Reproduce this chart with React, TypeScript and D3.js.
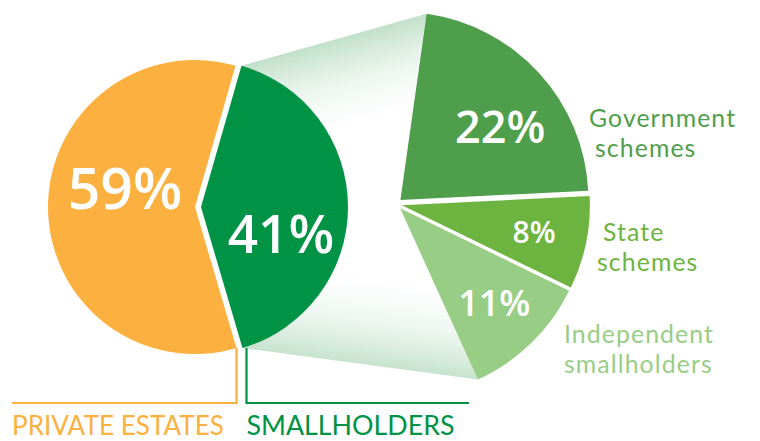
import React from 'react';
import * as d3 from 'd3';

// main split
const mainKeys = ['smallholders', 'private'];
const mainValues = [41, 59];
const mainColors = ['#009245', '#FBB040'];
const mainPctLabels = ['41%', '59%'];

// breakdown of smallholders
const subValues = [22, 8, 11];
const subPctLabels = ['22%', '8%', '11%'];
const subNames = [
  ['Government', 'schemes'],
  ['State', 'schemes'],
  ['Independent', 'smallholders'],
];
const subColors = ['#4F9E4B', '#6DB33F', '#98CD85'];
const subTextColors = ['#4F9E4B', '#6DB33F', '#98CD85'];

const legendLabels = ['PRIVATE ESTATES', 'SMALLHOLDERS'];

const deg = Math.PI / 180;
const pt = (cx: number, cy: number, r: number, a: number): [number, number] => [
  cx + r * Math.sin(a),
  cy - r * Math.cos(a),
];

export default function App() {
  const W = 760;
  const H = 441;

  // left pie
  const lc = { x: 201, y: 207 };
  const lr = 147;
  const lStart = 16 * deg;
  const mainPie = d3
    .pie<number>()
    .sort(null)
    .startAngle(lStart)
    .endAngle(lStart + 2 * Math.PI)(mainValues);
  const lArc = d3.arc<d3.PieArcDatum<number>>().innerRadius(0).outerRadius(lr);
  const lExplode = [0, 6];
  const lOff = mainPie.map((d, i) => {
    const a = (d.startAngle + d.endAngle) / 2;
    return [lExplode[i] * Math.sin(a), -lExplode[i] * Math.cos(a)];
  });
  const mainLabelR = [80, 70];
  const mainLabelNudge = [46, 2];
  const mainLabelSize = [53, 57];

  // right pie (same scale: share of total)
  const rc = { x: 396, y: 204 };
  const rr = 188;
  const rStart = 8 * deg;
  const subTotal = d3.sum(subValues);
  const subPie = d3
    .pie<number>()
    .sort(null)
    .startAngle(rStart)
    .endAngle(rStart + (2 * Math.PI * subTotal) / 100)(subValues);
  const rArc = d3.arc<d3.PieArcDatum<number>>().innerRadius(0).outerRadius(rr);
  const rExplode = 6;
  const rOff = subPie.map((d) => {
    const a = (d.startAngle + d.endAngle) / 2;
    return [rExplode * Math.sin(a), -rExplode * Math.cos(a)];
  });
  const subLabelR = 135;
  const subLabelNudge = [18, 0, -2];
  const subLabelSize = [45, 30, 36];

  // connector (zoom wedge) between the pies
  const g = mainPie[0];
  const p1 = pt(lc.x + lOff[0][0], lc.y + lOff[0][1], lr, g.startAngle);
  const p5 = pt(lc.x + lOff[0][0], lc.y + lOff[0][1], lr, g.endAngle);
  const first = subPie[0];
  const last = subPie[subPie.length - 1];
  const p2 = pt(rc.x + rOff[0][0], rc.y + rOff[0][1], rr, first.startAngle);
  const p3: [number, number] = [rc.x, rc.y];
  const p4 = pt(rc.x + rOff[2][0], rc.y + rOff[2][1], rr, last.endAngle);
  const poly = [p1, p2, p3, p4, p5, [lc.x, lc.y]];
  const polyPath = d3.line()(poly as [number, number][]) + 'Z';

  const fade = 100;
  const inward = (a: [number, number], b: [number, number], sign: number) => {
    const dx = b[0] - a[0];
    const dy = b[1] - a[1];
    const len = Math.hypot(dx, dy);
    const nx = (-dy / len) * sign;
    const ny = (dx / len) * sign;
    const m = [(a[0] + b[0]) / 2, (a[1] + b[1]) / 2];
    return { x1: m[0], y1: m[1], x2: m[0] + nx * fade, y2: m[1] + ny * fade };
  };
  const gTop = inward(p1, p2, 1);
  const gBot = inward(p5, p4, -1);

  // legend brackets
  const legendY = 403;
  const oCorner = pt(lc.x + lOff[1][0], lc.y + lOff[1][1], lr, mainPie[1].startAngle);
  const gCorner = pt(lc.x, lc.y, lr, mainPie[0].endAngle);
  const oX = oCorner[0];
  const gX = gCorner[0] + 4;

  const font = "'Open Sans', 'Noto Sans', sans-serif";
  const labelFont = "Lato, 'Open Sans', sans-serif";

  const sideLabelPos = [
    { x: 589, y: 127, dx: [0, 6] },
    { x: 597, y: 241, dx: [6, 0] },
    { x: 564, y: 343, dx: [0, 0] },
  ];
  const sideLabelSize = 24.8;

  return (
    <svg
      width={W}
      height={H}
      style={{ position: 'absolute', left: 0, top: 0, background: '#fff' }}
      fontFamily={font}
    >
      <defs>
        <linearGradient id="gTop" gradientUnits="userSpaceOnUse" {...gTop}>
          <stop offset="0" stopColor="#c1e0c9" />
          <stop offset="1" stopColor="#ffffff" stopOpacity={0} />
        </linearGradient>
        <linearGradient id="gBot" gradientUnits="userSpaceOnUse" {...gBot}>
          <stop offset="0" stopColor="#c6e3ce" />
          <stop offset="1" stopColor="#ffffff" stopOpacity={0} />
        </linearGradient>
      </defs>

      <path d={polyPath} fill="url(#gTop)" />
      <path d={polyPath} fill="url(#gBot)" />

      {/* left pie */}
      {mainPie.map((d, i) => (
        <g key={mainKeys[i]} transform={`translate(${lc.x + lOff[i][0]},${lc.y + lOff[i][1]})`}>
          <path d={lArc(d) || ''} fill={mainColors[i]} />
        </g>
      ))}
      {mainPie.map((d, i) => {
        const a = (d.startAngle + d.endAngle) / 2;
        const [x, y] = pt(lc.x + lOff[i][0], lc.y + lOff[i][1], mainLabelR[i], a);
        return (
          <text
            key={'ml' + i}
            x={x}
            y={y + mainLabelNudge[i]}
            textAnchor="middle"
            fill="#fff"
            fontSize={mainLabelSize[i]}
            fontWeight={600}
          >
            {mainPctLabels[i]}
          </text>
        );
      })}

      {/* right pie */}
      {subPie.map((d, i) => (
        <g key={'s' + i} transform={`translate(${rc.x + rOff[i][0]},${rc.y + rOff[i][1]})`}>
          <path d={rArc(d) || ''} fill={subColors[i]} />
        </g>
      ))}
      {subPie.map((d, i) => {
        const a = (d.startAngle + d.endAngle) / 2;
        const [x, y] = pt(rc.x + rOff[i][0], rc.y + rOff[i][1], subLabelR, a);
        return (
          <text
            key={'sl' + i}
            x={x}
            y={y + subLabelSize[i] * 0.36 + subLabelNudge[i]}
            textAnchor="middle"
            fill="#fff"
            fontSize={subLabelSize[i]}
            fontWeight={600}
          >
            {subPctLabels[i]}
          </text>
        );
      })}

      {/* side names, one text per line */}
      {subNames.map((lines, i) =>
        lines.map((t, j) => (
          <text
            key={'sn' + i + '-' + j}
            x={sideLabelPos[i].x + sideLabelPos[i].dx[j]}
            y={sideLabelPos[i].y + j * 30}
            fill={subTextColors[i]}
            fontFamily={labelFont}
            fontSize={sideLabelSize}
            letterSpacing={1.1}
          >
            {t}
          </text>
        ))
      )}

      {/* legend brackets */}
      <polyline
        points={`${oX},${oCorner[1]} ${oX},${legendY} 12,${legendY}`}
        fill="none"
        stroke={mainColors[1]}
        strokeWidth={2.2}
      />
      <polyline
        points={`${gX},${gCorner[1]} ${gX},${legendY} 469,${legendY}`}
        fill="none"
        stroke={mainColors[0]}
        strokeWidth={2.2}
      />
      <text x={12} y={435} fill={mainColors[1]} fontFamily={labelFont} fontSize={26} textLength={212} lengthAdjust="spacingAndGlyphs">
        {legendLabels[0]}
      </text>
      <text x={gX} y={435} fill={mainColors[0]} fontFamily={labelFont} fontSize={26} textLength={208} lengthAdjust="spacingAndGlyphs">
        {legendLabels[1]}
      </text>
    </svg>
  );
}
